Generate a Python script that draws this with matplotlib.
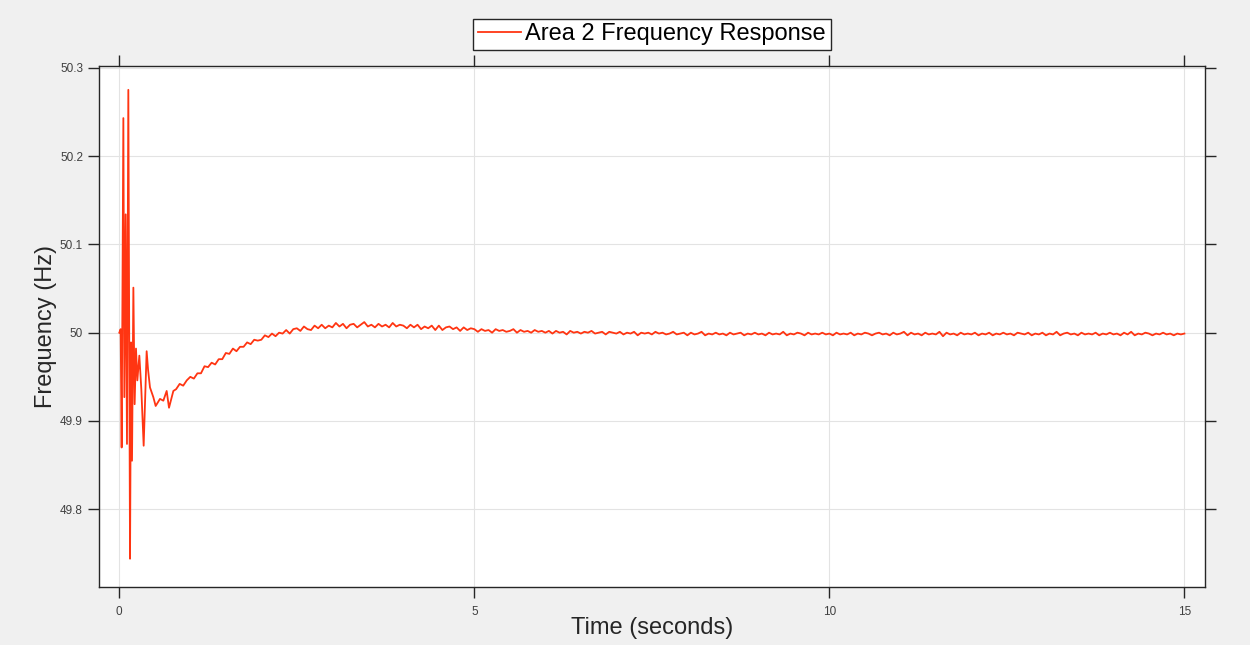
import numpy as np
import matplotlib
matplotlib.use("Agg")
import matplotlib.pyplot as plt
from matplotlib.ticker import FuncFormatter

# ---- data ----
# fast transient right after the disturbance (time s, frequency Hz)
trans_t = [0.0, 0.019, 0.033, 0.057, 0.071, 0.090, 0.108, 0.127, 0.151, 0.165,
           0.179, 0.198, 0.216, 0.235, 0.254, 0.282, 0.310, 0.343, 0.385, 0.405,
           0.432, 0.479, 0.512, 0.573, 0.620, 0.667, 0.700, 0.761]
trans_f = [50.0, 50.004, 49.870, 50.243, 49.927, 50.134, 49.874, 50.275, 49.744, 49.989,
           49.855, 50.051, 49.919, 49.982, 49.946, 49.974, 49.936, 49.872, 49.979, 49.958,
           49.938, 49.927, 49.917, 49.925, 49.923, 49.934, 49.915, 49.934]

# slow recovery + settled part, sampled every 0.05 s from 0.80 s to 15.00 s
# stored as deviation from 50 Hz in mHz
steady_t0 = 0.80
steady_dt = 0.05
steady_dev_mhz = [
    -64, -58, -60, -54,
    -50, -52, -46, -46, -38, -39, -34, -36, -30, -30, -23, -24, -18, -21, -16, -16, -11, -13, -8, -9,
    -8, -3, -5, -1, -4, 0, -1, 3, -1, 4, 5, 2, 7, 4, 3, 8, 5, 9, 5, 8,
    6, 11, 7, 10, 5, 9, 10, 6, 9, 12, 7, 9, 6, 10, 7, 9, 6, 11, 7, 9,
    8, 5, 9, 6, 9, 4, 7, 5, 8, 3, 8, 3, 6, 7, 4, 6, 2, 6, 3, 5,
    4, 1, 4, 2, 3, 0, 4, 2, 3, 1, 2, 4, 0, 3, 1, 2, 0, 3, 1, 2,
    0, 2, -1, 2, 0, 1, -2, 2, 0, 1, -1, 1, 0, 2, -1, 0, 1, -2, 1, 0,
    -1, 1, -2, 0, -1, 1, -3, 0, -1, 0, -2, 1, -1, 0, -2, -1, 1, -2, -1, 0,
    -3, 0, -2, -1, 1, -3, -1, -2, 0, -2, -1, -3, 0, -2, -1, 0, -3, -1, -2, 0,
    -2, -1, -3, 0, -2, -1, -2, 1, -3, -1, -2, 0, -1, -3, 0, -2, -1, -2, 0, -2,
    -1, -3, 0, -2, -1, -2, 0, -3, -1, -2, 0, -1, -3, -1, 0, -2, -1, -3, 0, -2,
    -1, 1, -3, 0, -2, -1, -3, 0, -2, -1, -2, 1, -4, 0, -2, -1, -3, 0, -2, -1,
    -2, 0, -3, -1, -2, 0, -3, -1, -2, 0, -2, -1, -3, 0, -1, -2, 0, -3, -1, -2,
    0, -3, -1, -2, 1, -3, -1, 0, -2, -1, -3, 0, -2, -1, -2, 0, -3, -1, -2, 0,
    -2, -1, -3, 0, -2, 1, -3, -1, -2, 0, -1, -3, -1, -2, 0, -2, -1, -3, -1, -2,
    -1,
]

x_ticks = [0, 5, 10, 15]
y_ticks = [49.8, 49.9, 50.0, 50.1, 50.2, 50.3]

steady_t = steady_t0 + steady_dt * np.arange(len(steady_dev_mhz))
steady_f = 50.0 + np.array(steady_dev_mhz) / 1000.0
t = np.concatenate([trans_t, steady_t])
f = np.concatenate([trans_f, steady_f])

# ---- plot (MATLAB-ish look) ----
plt.rcParams["font.family"] = ["Liberation Sans", "DejaVu Sans"]
bg = "#f0f0f0"
ink = "#262626"

fig = plt.figure(figsize=(12.5, 6.45), dpi=100, facecolor=bg)
ax = fig.add_axes([99 / 1250, 58 / 645, 1106 / 1250, 521 / 645])
ax.set_facecolor("white")

ax.plot(t, f, color="#ff3512", lw=1.3, label="Area 2 Frequency Response")

ax.set_xlim(-0.286, 15.29)
ax.set_ylim(49.712, 50.302)
ax.set_xticks(x_ticks)
ax.set_yticks(y_ticks)
ax.yaxis.set_major_formatter(FuncFormatter(lambda v, p: f"{v:g}"))

ax.grid(True, color="#e3e3e3", lw=0.8)
ax.set_axisbelow(True)
for s in ax.spines.values():
    s.set_color(ink)
    s.set_linewidth(1.0)

ax.tick_params(direction="out", length=8, width=1.0, color=ink,
               top=True, right=True, labelsize=8.5, labelcolor="#404040")
ax.tick_params(axis="x", pad=6)
ax.tick_params(axis="y", pad=3.5)

ax.set_xlabel("Time (seconds)", fontsize=17, color=ink, labelpad=-1)
ax.set_ylabel("Frequency (Hz)", fontsize=17, color=ink, labelpad=2)

leg = ax.legend(loc="lower center", bbox_to_anchor=(0.5, 1.0 + 16 / 521),
                borderaxespad=0, fontsize=17, fancybox=False, framealpha=1,
                edgecolor=ink, handlelength=1.8, handletextpad=0.2,
                borderpad=0.2)
leg.get_frame().set_linewidth(1.0)

fig.savefig("out.png", dpi=100, facecolor=bg)
